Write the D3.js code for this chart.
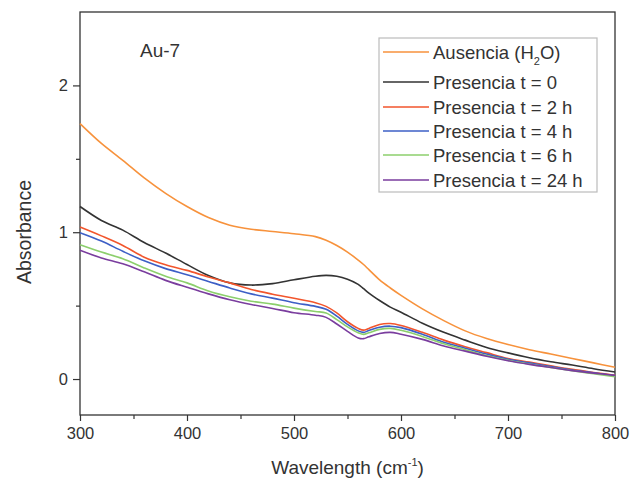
<!DOCTYPE html>
<html>
<head>
<meta charset="utf-8">
<script src="https://cdn.jsdelivr.net/npm/d3@7"></script>
<style>
  body { margin: 0; background: #fff; }
  text { font-family: "Liberation Sans", Arial, sans-serif; fill: #333; }
</style>
</head>
<body>
<div id="chart"></div>
<script>
// wavelengths (nm) and absorbance
let wavelength = [300, 320, 340, 360, 380, 400, 420, 440, 460, 480, 500, 520, 530, 540, 550, 560, 565, 570, 580, 590, 600, 620, 640, 660, 680, 700, 720, 740, 760, 780, 800];

let ausencia = [1.74, 1.605, 1.49, 1.37, 1.265, 1.175, 1.10, 1.048, 1.02, 1.005, 0.99, 0.97, 0.946, 0.91, 0.865, 0.81, 0.78, 0.745, 0.675, 0.62, 0.57, 0.478, 0.398, 0.328, 0.276, 0.235, 0.20, 0.17, 0.14, 0.11, 0.08];
let t0  = [1.175, 1.08, 1.014, 0.93, 0.858, 0.78, 0.705, 0.655, 0.64, 0.65, 0.676, 0.70, 0.706, 0.70, 0.68, 0.645, 0.615, 0.585, 0.535, 0.49, 0.455, 0.38, 0.318, 0.265, 0.215, 0.178, 0.145, 0.118, 0.095, 0.07, 0.048];
let t2  = [1.035, 0.975, 0.91, 0.83, 0.778, 0.74, 0.695, 0.655, 0.61, 0.578, 0.55, 0.52, 0.495, 0.45, 0.39, 0.345, 0.333, 0.345, 0.372, 0.378, 0.365, 0.318, 0.265, 0.22, 0.18, 0.14, 0.115, 0.09, 0.066, 0.045, 0.025];
let t4  = [0.997, 0.94, 0.87, 0.805, 0.752, 0.71, 0.665, 0.62, 0.58, 0.551, 0.52, 0.495, 0.475, 0.428, 0.372, 0.328, 0.318, 0.33, 0.353, 0.36, 0.35, 0.305, 0.25, 0.21, 0.17, 0.135, 0.11, 0.085, 0.062, 0.042, 0.022];
let t6  = [0.915, 0.865, 0.82, 0.757, 0.70, 0.655, 0.60, 0.56, 0.53, 0.51, 0.483, 0.46, 0.45, 0.405, 0.355, 0.315, 0.304, 0.315, 0.338, 0.345, 0.332, 0.29, 0.24, 0.20, 0.16, 0.128, 0.102, 0.078, 0.056, 0.036, 0.016];
let t24 = [0.877, 0.825, 0.785, 0.73, 0.672, 0.625, 0.58, 0.54, 0.508, 0.481, 0.452, 0.435, 0.42, 0.375, 0.325, 0.28, 0.275, 0.288, 0.31, 0.318, 0.305, 0.27, 0.225, 0.19, 0.155, 0.125, 0.10, 0.078, 0.057, 0.04, 0.025];

let seriesNames = ["Ausencia", "Presencia t = 0", "Presencia t = 2 h", "Presencia t = 4 h", "Presencia t = 6 h", "Presencia t = 24 h"];
let seriesColors = ["#f7923c", "#333333", "#f2552c", "#3d5fc6", "#8ccf6c", "#7a3d9e"];
let seriesValues = [ausencia, t0, t2, t4, t6, t24];

let xTicks = [300, 400, 500, 600, 700, 800];
let yTicks = [0, 1, 2];

//setup SVG container
let svgWidth = 644;
let svgHeight = 486;
let margin = { top: 12, right: 29, bottom: 71, left: 80 };
let bodyWidth = svgWidth - margin.left - margin.right;
let bodyHeight = svgHeight - margin.top - margin.bottom;

let svg = d3.select("#chart").append("svg")
            .attr("width", svgWidth)
            .attr("height", svgHeight);

let chartGroup = svg.append("g")
                    .attr("transform", `translate(${margin.left},${margin.top})`);

// scales
let xScale = d3.scaleLinear().domain([300, 800]).range([0, bodyWidth]);
let yScale = d3.scaleLinear().domain([-0.245, 2.5]).range([bodyHeight, 0]);

// minor ticks
let bottomMinor = d3.axisBottom(xScale).tickValues(d3.range(350, 800, 100)).tickSize(4).tickFormat("");
let leftMinor = d3.axisLeft(yScale).tickValues([0.5, 1.5]).tickSize(4).tickFormat("");

// major axes
let bottomAxis = d3.axisBottom(xScale).tickValues(xTicks).tickSize(6).tickPadding(6).tickFormat(d3.format("d"));
let leftAxis = d3.axisLeft(yScale).tickValues(yTicks).tickSize(7).tickPadding(5).tickFormat(d3.format("d"));

[bottomMinor, bottomAxis].forEach(ax => {
  chartGroup.append("g").attr("class", "axis")
            .attr("transform", `translate(0,${bodyHeight})`)
            .call(ax);
});
[leftMinor, leftAxis].forEach(ax => {
  chartGroup.append("g").attr("class", "axis").call(ax);
});

chartGroup.selectAll(".axis path").remove();
chartGroup.selectAll(".axis line").attr("stroke", "#333").attr("stroke-width", 1.2);
chartGroup.selectAll(".axis text").attr("font-size", "16.5px").attr("fill", "#333")
          .style("font-family", "'Liberation Sans', Arial, sans-serif");

// frame
chartGroup.append("rect")
          .attr("x", 0).attr("y", 0)
          .attr("width", bodyWidth).attr("height", bodyHeight)
          .attr("fill", "none").attr("stroke", "#333").attr("stroke-width", 1.3);

// lines
let lineGen = d3.line()
                .x((d, i) => xScale(wavelength[i]))
                .y(d => yScale(d))
                .curve(d3.curveCatmullRom.alpha(0.5));

seriesValues.forEach((vals, k) => {
  chartGroup.append("path")
            .datum(vals)
            .attr("d", lineGen)
            .attr("fill", "none")
            .attr("stroke", seriesColors[k])
            .attr("stroke-width", 1.6);
});

// axis titles
svg.append("text")
   .attr("x", margin.left + bodyWidth / 2)
   .attr("y", 474)
   .attr("text-anchor", "middle")
   .attr("font-size", "19px")
   .html('Wavelength (cm<tspan dy="-8" font-size="11px">-1</tspan><tspan dy="8">)</tspan>');

svg.append("text")
   .attr("transform", "translate(31,232) rotate(-90)")
   .attr("text-anchor", "middle")
   .attr("font-size", "19.5px")
   .text("Absorbance");

// sample label
chartGroup.append("text")
          .attr("x", 60).attr("y", 45)
          .attr("font-size", "19px")
          .text("Au-7");

// legend
let legend = svg.append("g").attr("transform", "translate(379,38)");
legend.append("rect")
      .attr("width", 218).attr("height", 154)
      .attr("fill", "#fff").attr("stroke", "#bbb").attr("stroke-width", 1.2);

let rowY = [14, 44, 69, 93, 117, 142];
seriesNames.forEach((name, k) => {
  let g = legend.append("g").attr("transform", `translate(0,${rowY[k]})`);
  g.append("line")
   .attr("x1", 4).attr("x2", 50)
   .attr("y1", 0).attr("y2", 0)
   .attr("stroke", seriesColors[k]).attr("stroke-width", 1.6);
  let t = g.append("text")
           .attr("x", 54).attr("y", 6.5)
           .attr("font-size", "18.5px");
  if (k === 0) {
    t.html('Ausencia (H<tspan dy="6" font-size="11px">2</tspan><tspan dy="-6">O)</tspan>');
  } else {
    t.text(name);
  }
});
</script>
</body>
</html>
